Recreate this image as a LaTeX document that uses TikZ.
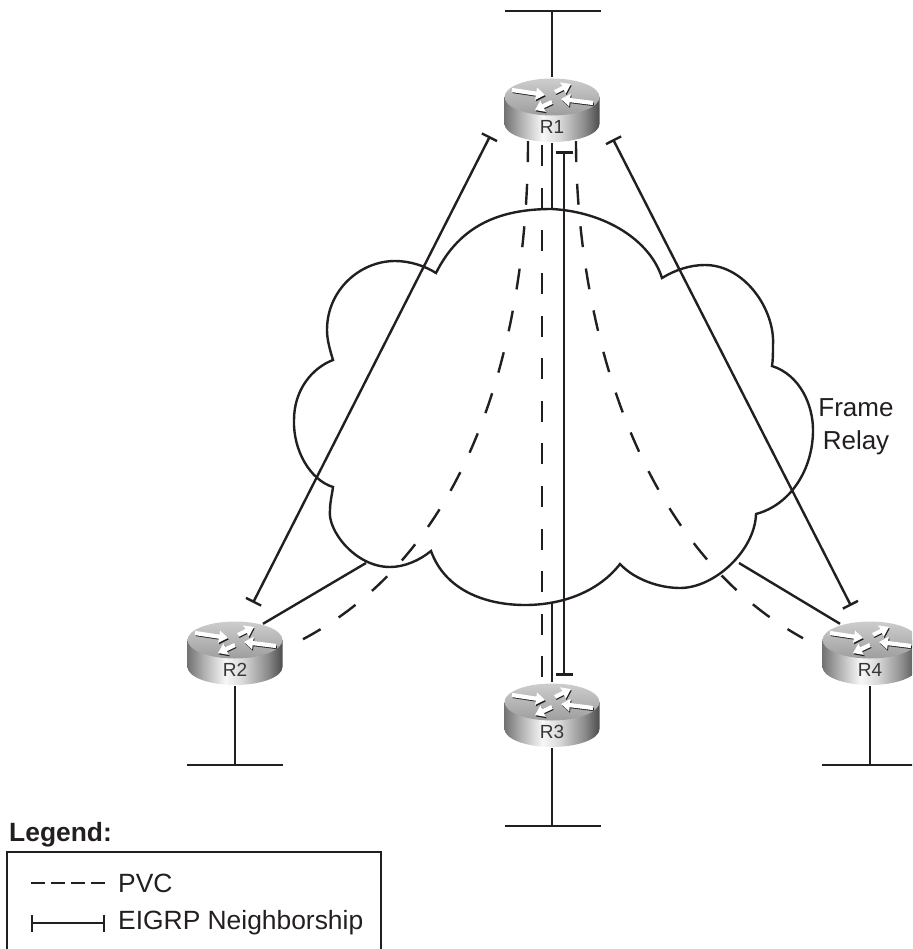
\documentclass[tikz,border=0pt]{standalone}
\usepackage{fontspec}
\setmainfont{Liberation Sans}
\usetikzlibrary{arrows.meta}

\definecolor{ink}{HTML}{231F20}
\definecolor{routertop}{HTML}{CDCDCD}
\definecolor{routerlow}{HTML}{9E9E9E}
\pgfdeclarehorizontalshading{routerside}{100bp}{color(0bp)=(black!55); color(25bp)=(black!55);
  color(34bp)=(black!30); color(45bp)=(black!3); color(54bp)=(black!15); color(67bp)=(black!45);
  color(75bp)=(black!70); color(100bp)=(black!70)}

\tikzset{
  router box/.style={minimum width=95pt,minimum height=64pt,inner sep=0pt},
  router arrow/.style={white,line width=4.2pt,-{Triangle[width=12pt,length=9pt]}},
  router shadow/.style={ink,line width=3.4pt,-{Triangle[width=12pt,length=9pt]},shift={(0.8pt,-1.4pt)}},
  router/.pic={
    \path[shade,shading=routerside] (-47.5,-13) -- (-47.5,14) .. controls (-47.5,24) and (-26,32) .. (0,32)
      .. controls (26,32) and (47.5,24) .. (47.5,14) -- (47.5,-13) -- cycle;
    \path[top color=routertop,bottom color=routerlow] (0,-13) ellipse [x radius=47.5pt,y radius=18.5pt];
    \draw[router shadow] (-40,-20) -- (-7,-15);
    \draw[router shadow] (3,-18) -- (19,-26);
    \draw[router shadow] (41,-7) -- (9,-11);
    \draw[router shadow] (0,-8) -- (-17,0);
    \draw[router arrow] (-40,-20) -- (-7,-15);
    \draw[router arrow] (3,-18) -- (19,-26);
    \draw[router arrow] (41,-7) -- (9,-11);
    \draw[router arrow] (0,-8) -- (-17,0);
    \node[text=ink!90,inner sep=0pt,font=\fontsize{19}{20}\selectfont] (-label) at (0,17) {#1};
  },
  pvc/.style={dash pattern=on 21pt off 21.6pt},
  neighbor/.style={{Bar[width=17pt,length=2.4pt]}-{Bar[width=17pt,length=2.4pt]}},
  legend text/.style={anchor=west,inner sep=0pt,text=ink,font=\fontsize{26.4}{30}\selectfont}
}

\begin{document}
\begin{tikzpicture}[x=1pt,y=-1pt,line width=2.4pt,draw=ink]
 \path[use as bounding box,clip] (0,0) rectangle (912,949);

 \node[router box] (r1) at (552,110) {};
 \node[router box] (r2) at (235,653) {};
 \node[router box] (r3) at (552,715) {};
 \node[router box] (r4) at (870,653) {};
 \coordinate (lan1) at (552,11);
 \coordinate (lan2) at (235,765);
 \coordinate (lan3) at (552,826);
 \coordinate (lan4) at (870,765);
 \coordinate (cloud top) at (552,209);
 \coordinate (cloud bottom) at (552,603);
 \coordinate (cloud left) at (366,563);
 \coordinate (cloud right) at (739,563);

 % cloud
 \draw[line join=miter] (436,273) .. controls (460,225) and (500,209) .. (552,209)
   .. controls (605,212) and (650,240) .. (662,278)
   .. controls (675,270) and (690,265) .. (705,265)
   .. controls (745,265) and (775,310) .. (773,345)
   .. controls (773,352) and (773,360) .. (772,366)
   .. controls (800,375) and (813,405) .. (813,430)
   .. controls (813,470) and (790,505) .. (756,514)
   .. controls (755,550) and (715,588) .. (680,588)
   .. controls (660,588) and (635,580) .. (620,564)
   .. controls (600,590) and (565,605) .. (525,605)
   .. controls (485,605) and (445,590) .. (431,551)
   .. controls (420,560) and (405,567) .. (390,567)
   .. controls (355,567) and (327,530) .. (330,510)
   .. controls (330,502) and (332,495) .. (333,487)
   .. controls (310,480) and (293,450) .. (294,420)
   .. controls (294,390) and (312,368) .. (333,360)
   .. controls (330,350) and (327,340) .. (327,330)
   .. controls (327,290) and (360,261) .. (395,261)
   .. controls (410,261) and (425,266) .. (436,273) -- cycle;
 \node[align=center,inner sep=0pt,text=ink,font=\fontsize{26}{33}\selectfont] (frame relay) at (856,427) {Frame\\Relay};

 % LAN segments
 \draw (lan1) -- (r1.north);
 \draw (lan2) -- (r2.south);
 \draw (lan3) -- (r3.south);
 \draw (lan4) -- (r4.south);
 \draw ([xshift=-47pt]lan1) -- ([xshift=49pt]lan1);
 \draw ([xshift=-48pt]lan2) -- ([xshift=48pt]lan2);
 \draw ([xshift=-47pt]lan3) -- ([xshift=49pt]lan3);
 \draw ([xshift=-48pt]lan4) -- ([xshift=48pt]lan4);

 % access links
 \draw (r1.south) -- (cloud top);
 \draw (cloud bottom) -- (r3.north);
 \draw (cloud left) -- ([xshift=28pt,yshift=-4pt]r2.north);
 \draw (cloud right) -- ([xshift=-30pt,yshift=-4pt]r4.north);

 % PVCs
 \draw[pvc] ([xshift=-24pt,yshift=2pt]r1.south) .. controls (528,300) and (490,540) .. ([xshift=68pt,yshift=47pt]r2.south);
 \draw[pvc] ([xshift=-10pt,yshift=-2pt]r1.south) -- ([xshift=-10pt,yshift=5pt]r3.north);
 \draw[pvc] ([xshift=24pt,yshift=2pt]r1.south) .. controls (576,300) and (625,540) .. ([xshift=-67pt,yshift=48pt]r4.south);

 % EIGRP neighbors
 \draw[neighbor] ([xshift=-62pt,yshift=7pt]r1.south) -- ([xshift=18pt,yshift=17pt]r2.north);
 \draw[neighbor] ([xshift=12pt,yshift=-8pt]r1.south) -- ([xshift=12pt,yshift=6pt]r3.north);
 \draw[neighbor] ([xshift=61pt,yshift=4pt]r1.south) -- ([xshift=-19pt,yshift=14pt]r4.north);

 \pic (r1) at (r1) {router=R1};
 \pic (r2) at (r2) {router=R2};
 \pic (r3) at (r3) {router=R3};
 \pic (r4) at (r4) {router=R4};

 % legend
 \node[legend text,font=\fontsize{26.4}{30}\selectfont\bfseries] (legend) at (8,835) {Legend:};
 \draw (7,852) rectangle (381,965);
 \node[legend text] (pvc key) at (117,883) {PVC};
 \node[legend text] (eigrp key) at (117,923) {EIGRP Neighborship};
 \draw[dash pattern=on 14pt off 6pt] ([xshift=-86pt]pvc key.west) -- ([xshift=-12pt]pvc key.west);
 \draw[neighbor] ([xshift=-86pt]eigrp key.west) -- ([xshift=-12pt]eigrp key.west);
\end{tikzpicture}
\end{document}
